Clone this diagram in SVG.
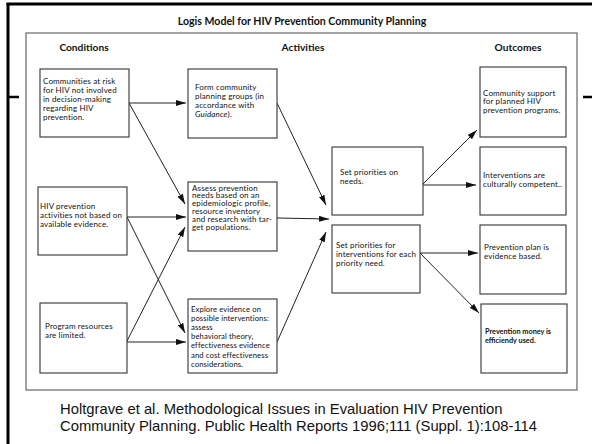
<svg xmlns="http://www.w3.org/2000/svg" width="592" height="444" viewBox="0 0 592 444">
<style>
.box{fill:#fff;stroke:#333;stroke-width:1.1}
.t{font-family:Lato,"Open Sans","Liberation Sans",sans-serif;font-size:8px;letter-spacing:0.15px;fill:#111}
.h{font-family:Lato,"Open Sans","Liberation Sans",sans-serif;font-weight:bold;fill:#111}
.c{stroke:#222;stroke-width:1;fill:none;marker-end:url(#ah)}
.cite{font-family:"Liberation Sans",Arial,sans-serif;font-size:14.8px;fill:#111}
</style>
<defs>
<marker id="ah" viewBox="0 0 10 6" refX="10" refY="3" markerWidth="10" markerHeight="6" markerUnits="userSpaceOnUse" orient="auto">
<path d="M0,0 L10,3 L0,6 z" fill="#111"/>
</marker>
</defs>
<rect width="592" height="444" fill="#fff"/>
<g id="frame">
<line x1="8" y1="3" x2="8" y2="444" stroke="#000" stroke-width="3"/>
<line x1="6.5" y1="4" x2="592" y2="4" stroke="#000" stroke-width="3"/>
<line x1="7" y1="97" x2="19" y2="97" stroke="#000" stroke-width="2.5"/>
<line x1="583" y1="97" x2="592" y2="97" stroke="#000" stroke-width="2.5"/>
<rect x="26" y="33" width="551" height="357" fill="none" stroke="#666" stroke-width="1.2"/>
</g>
<g id="headers">
<text class="h" x="302" y="25" font-size="10.6" text-anchor="middle">Logis Model for HIV Prevention Community Planning</text>
<text class="h" x="84" y="51" font-size="10.2" text-anchor="middle">Conditions</text>
<text class="h" x="303" y="51" font-size="10.2" text-anchor="middle">Activities</text>
<text class="h" x="518" y="51" font-size="10.2" text-anchor="middle">Outcomes</text>
</g>
<g id="connectors">
<line class="c" x1="129" y1="103" x2="186" y2="103"/>
<line class="c" x1="129" y1="103" x2="185" y2="204"/>
<line class="c" x1="127" y1="217" x2="186" y2="217"/>
<line class="c" x1="127" y1="217" x2="185" y2="333"/>
<line class="c" x1="127" y1="342" x2="186" y2="342"/>
<line class="c" x1="127" y1="341" x2="185" y2="227"/>
<line class="c" x1="277" y1="103" x2="326" y2="205"/>
<line class="c" x1="277" y1="218" x2="329" y2="219"/>
<line class="c" x1="277" y1="342" x2="326" y2="232"/>
<line class="c" x1="423" y1="184" x2="477" y2="130"/>
<line class="c" x1="423" y1="185" x2="476" y2="185"/>
<line class="c" x1="420" y1="253" x2="478" y2="253"/>
<line class="c" x1="420" y1="253" x2="479" y2="313"/>
</g>
<g id="cond1">
<rect class="box" x="40" y="69" width="89" height="68"/>
<text class="t"><tspan x="43" y="84">Communities at risk</tspan><tspan x="43" y="93">for HIV not involved</tspan><tspan x="43" y="102">in decision-making</tspan><tspan x="43" y="111">regarding HIV</tspan><tspan x="43" y="120">prevention.</tspan></text>
</g>
<g id="cond2">
<rect class="box" x="38" y="187" width="89" height="68"/>
<text class="t"><tspan x="40" y="209">HIV prevention</tspan><tspan x="40" y="218">activities not based on</tspan><tspan x="40" y="227">available evidence.</tspan></text>
</g>
<g id="cond3">
<rect class="box" x="40" y="303" width="87" height="70"/>
<text class="t"><tspan x="45" y="329">Program resources</tspan><tspan x="45" y="337.5">are limited.</tspan></text>
</g>
<g id="form">
<rect class="box" x="188" y="69" width="89" height="69"/>
<text class="t"><tspan x="195" y="89.5">Form community</tspan><tspan x="195" y="98.5">planning groups (in</tspan><tspan x="195" y="107.5">accordance with</tspan><tspan x="195" y="116.5"><tspan font-style="italic">Guidance</tspan>).</tspan></text>
</g>
<g id="assess">
<rect class="box" x="188" y="182" width="89" height="69"/>
<text class="t"><tspan x="192" y="190.5">Assess prevention</tspan><tspan x="192" y="198.4">needs based on an</tspan><tspan x="192" y="206.3">epidemiologic profile,</tspan><tspan x="192" y="214.2">resource inventory</tspan><tspan x="192" y="222.1">and research with tar-</tspan><tspan x="192" y="230">get populations.</tspan></text>
</g>
<g id="explore">
<rect class="box" x="188" y="299" width="89" height="74"/>
<text class="t" style="font-size:7.7px;letter-spacing:0.1px"><tspan x="191" y="311.5">Explore evidence on</tspan><tspan x="191" y="320.7">possible interventions:</tspan><tspan x="191" y="329.9">assess</tspan><tspan x="191" y="339.1">behavioral theory,</tspan><tspan x="191" y="348.3">effectiveness evidence</tspan><tspan x="191" y="357.5">and cost effectiveness</tspan><tspan x="191" y="366.7">considerations.</tspan></text>
</g>
<g id="prio-needs">
<rect class="box" x="332" y="147" width="91" height="68"/>
<text class="t"><tspan x="340" y="175">Set priorities on</tspan><tspan x="340" y="184">needs.</tspan></text>
</g>
<g id="prio-interventions">
<rect class="box" x="332" y="225" width="88" height="68"/>
<text class="t"><tspan x="336" y="247.5">Set priorities for</tspan><tspan x="336" y="256.5">interventions for each</tspan><tspan x="336" y="265.5">priority need.</tspan></text>
</g>
<g id="out1">
<rect class="box" x="480" y="67" width="86" height="70"/>
<text class="t"><tspan x="483" y="95.5">Community support</tspan><tspan x="483" y="104">for planned HIV</tspan><tspan x="483" y="112.5">prevention programs.</tspan></text>
</g>
<g id="out2">
<rect class="box" x="480" y="147" width="86" height="68"/>
<text class="t"><tspan x="483" y="177.5">Interventions are</tspan><tspan x="483" y="186.5">culturally competent..</tspan></text>
</g>
<g id="out3">
<rect class="box" x="480" y="225" width="86" height="69"/>
<text class="t"><tspan x="484" y="249.5">Prevention plan is</tspan><tspan x="484" y="259">evidence based.</tspan></text>
</g>
<g id="out4">
<rect class="box" x="481" y="304" width="86" height="69"/>
<text class="t" font-weight="bold" style="font-size:7.3px;letter-spacing:0"><tspan x="485" y="333.5">Prevention money is</tspan><tspan x="485" y="343">efficiendy used.</tspan></text>
</g>
<g id="citation">
<text class="cite"><tspan x="60" y="414">Holtgrave et al. Methodological Issues in Evaluation HIV Prevention</tspan><tspan x="60" y="431">Community Planning. Public Health Reports 1996;111 (Suppl. 1):108-114</tspan></text>
</g>
</svg>
